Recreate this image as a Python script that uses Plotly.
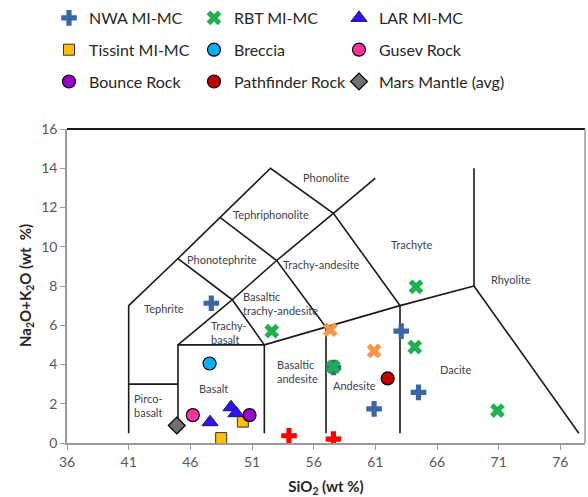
import plotly.graph_objects as go

# ---------------- data ----------------
nwa_x = [47.7, 63.1, 57.6, 60.9, 64.5]
nwa_y = [7.12, 5.70, 3.85, 1.74, 2.58]

rbt_x = [52.6, 57.6, 64.3, 64.2, 70.9]
rbt_y = [5.70, 3.88, 7.96, 4.89, 1.65]

rbt_orange_x = [57.35, 60.9]
rbt_orange_y = [5.77, 4.69]

red_plus_x = [54.0, 57.6]
red_plus_y = [0.37, 0.20]

lar_x = [47.6, 49.3, 49.7]
lar_y = [1.06, 1.82, 1.52]

tissint_x = [48.5, 50.26]
tissint_y = [0.25, 1.09]

breccia_x = [47.56]
breccia_y = [4.05]

gusev_x = [46.2]
gusev_y = [1.42]

bounce_x = [50.8]
bounce_y = [1.42]

pathfinder_x = [62.0]
pathfinder_y = [3.29]

mantle_x = [44.9]
mantle_y = [0.89]

# TAS field boundaries (polylines)
tas_lines = [
    ([41, 41, 45, 48.4, 52.5, 57.6, 63, 63], [0.5, 7, 9.4, 11.5, 14, 11.7, 7, 0.5]),
    ([41, 45], [3, 3]),
    ([45, 45, 52, 52], [0.5, 5, 5, 0.5]),
    ([45, 49.4, 52], [5, 7.3, 5]),
    ([45, 49.4], [9.4, 7.3]),
    ([49.4, 53, 57.6, 61], [7.3, 9.3, 11.7, 13.5]),
    ([48.4, 53, 57, 57], [11.5, 9.3, 5.9, 0.5]),
    ([52, 57, 63, 69], [5, 5.9, 7, 8]),
    ([69, 69], [8, 14]),
    ([69, 77.5], [8, 0.5]),
]

field_names = ["Phonolite", "Tephriphonolite", "Phonotephrite", "Trachy-andesite",
               "Tephrite", "Basaltic<br>trachy-andesite", "Trachy-<br>basalt", "Basalt",
               "Pirco-<br>basalt", "Basaltic<br>andesite", "Andesite", "Dacite",
               "Trachyte", "Rhyolite"]
field_x = [57.0, 52.56, 48.6, 56.65, 43.9, 50.1, 47.5, 47.85, 41.3, 52.83, 59.35, 67.5, 63.95, 72.0]
field_y = [13.55, 11.65, 9.33, 9.1, 6.83, 7.1, 5.64, 2.78, 1.93, 3.66, 2.95, 3.76, 10.13, 8.35]
field_align = ["center", "center", "center", "center", "center", "left", "left", "center",
               "left", "left", "center", "center", "center", "center"]

x_ticks = [36, 41, 46, 51, 56, 61, 66, 71, 76]
y_ticks = [0, 2, 4, 6, 8, 10, 12, 14, 16]

x_title = "SiO<sub>2</sub> (wt %)"
y_title = "Na<sub>2</sub>O+K<sub>2</sub>O (wt  %)"

# ---------------- figure ----------------
FONT = "Lato, 'DejaVu Sans', sans-serif"
W, H = 588, 497
ML, MR, MT, MB = 67, 3, 129, 54
fig = go.Figure()

for lx, ly in tas_lines:
    fig.add_trace(go.Scatter(x=lx, y=ly, mode="lines", line=dict(color="#1a1a1a", width=1.6),
                             showlegend=False, hoverinfo="skip"))

def pts(x, y, name, symbol, color, size, lw=0, lc="#000000", legend="legend", show=True):
    fig.add_trace(go.Scatter(
        x=x, y=y, mode="markers", name=name, legend=legend, showlegend=show,
        legendgroup=name,
        marker=dict(symbol=symbol, color=color, size=size, line=dict(width=lw, color=lc))))

pts(rbt_orange_x, rbt_orange_y, "RBT (orange)", "x", "#f79646", 13, show=False)
pts(red_plus_x, red_plus_y, "Red", "cross", "#ff0000", 13, show=False)
# column 1
pts(nwa_x, nwa_y, "NWA MI-MC", "cross", "#3b66a6", 13, legend="legend")
pts(tissint_x, tissint_y, "Tissint MI-MC", "square", "#ffc000", 11, 1, "#333333", legend="legend")
pts(bounce_x, bounce_y, "Bounce Rock", "circle", "#9900cc", 13, 1.2, legend="legend")
# column 2
pts(rbt_x, rbt_y, "RBT MI-MC", "x", "#1fb04f", 13, legend="legend2")
pts(breccia_x, breccia_y, "Breccia", "circle", "#00b0f0", 13, 1.2, legend="legend2")
pts(pathfinder_x, pathfinder_y, "Pathfinder Rock", "circle", "#c00000", 13, 1.2, legend="legend2")
# column 3
pts(lar_x, lar_y, "LAR MI-MC", "triangle-up", "#3311f5", 14, 1, "#1a1a60", legend="legend3")
pts(gusev_x, gusev_y, "Gusev Rock", "circle", "#ff3399", 13, 1.2, legend="legend3")
pts(mantle_x, mantle_y, "Mars Mantle (avg)", "diamond", "#707070", 13, 1.2, legend="legend3")

for name, x, y, al in zip(field_names, field_x, field_y, field_align):
    fig.add_annotation(x=x, y=y, text=name, showarrow=False, align=al,
                       xanchor="left" if al == "left" else "center", yanchor="middle",
                       font=dict(family=FONT, size=11, color="#3d4250"))

# y axis title (as rotated annotation beside the axis)
fig.add_annotation(xref="paper", yref="paper", x=(26 - ML) / (W - ML - MR), y=0.5,
                   text=y_title, textangle=-90, showarrow=False,
                   xanchor="center", yanchor="middle",
                   font=dict(family=FONT, size=15, color="#262626", weight="bold"))

# plot frame (top black, right gray)
fig.add_shape(type="line", xref="paper", yref="paper", x0=0, x1=1, y0=1, y1=1,
              line=dict(color="#1a1a1a", width=2))
fig.add_shape(type="line", xref="paper", yref="paper", x0=1, x1=1, y0=0, y1=1,
              line=dict(color="#9a9a9a", width=1.5))

leg_common = dict(orientation="v", xanchor="left", yanchor="top",
                  xref="container", yref="container", y=1 - 1 / H,
                  font=dict(family=FONT, size=16, color="#262626"),
                  bgcolor="rgba(0,0,0,0)", itemsizing="trace", tracegroupgap=8)

fig.update_layout(
    width=W, height=H,
    margin=dict(l=ML, r=MR, t=MT, b=MB, autoexpand=False),
    plot_bgcolor="white", paper_bgcolor="white",
    font=dict(family=FONT),
    legend=dict(x=49 / W, **leg_common),
    legend2=dict(x=194 / W, **leg_common),
    legend3=dict(x=339 / W, **leg_common),
    xaxis=dict(range=[36, 78], tickvals=x_ticks, ticktext=[str(v) for v in x_ticks],
               showgrid=False, zeroline=False, showline=True, linecolor="#9a9a9a", linewidth=1.5,
               ticks="outside", ticklen=5, tickcolor="#9a9a9a",
               tickfont=dict(family=FONT, size=14, color="#595959"),
               title=dict(text=x_title, standoff=15,
                          font=dict(family=FONT, size=15, color="#262626", weight="bold"))),
    yaxis=dict(range=[0, 16], tickvals=y_ticks, ticktext=[str(v) for v in y_ticks],
               showgrid=False, zeroline=False, showline=True, linecolor="#9a9a9a", linewidth=1.5,
               ticks="outside", ticklen=5, tickcolor="#9a9a9a",
               tickfont=dict(family=FONT, size=14, color="#595959")),
)

fig.write_html("out.html", config={"displayModeBar": False},
               post_script="document.body.style.margin='0';")
